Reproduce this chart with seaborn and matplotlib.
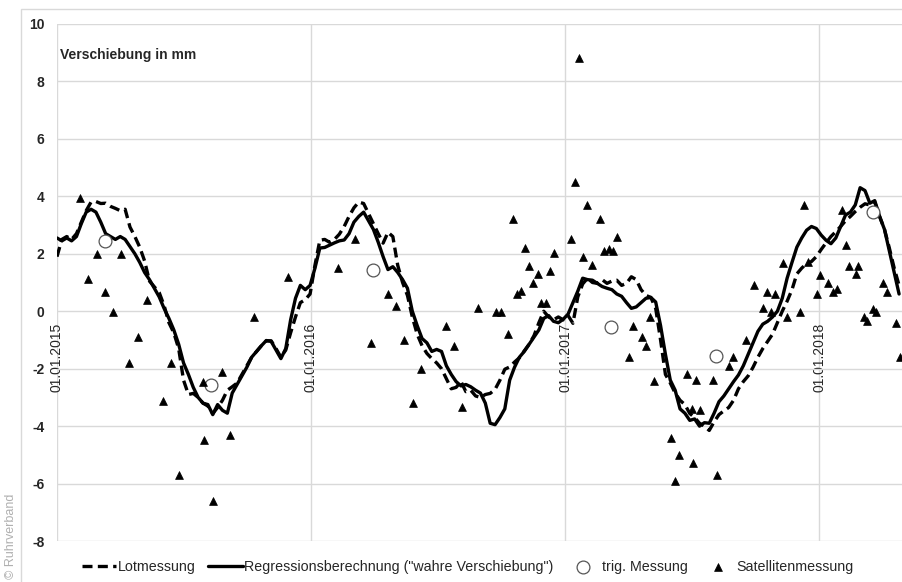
import pandas as pd
import seaborn as sns
import matplotlib.pyplot as plt
from matplotlib.patches import Rectangle

# Lotmessung and Regression, weekly values from 01.01.2015 (mm)
lot_mm = [
    1.9, 2.5, 2.6, 2.5, 2.7, 3.1, 3.5, 3.8, 3.82, 3.75,
    3.76, 3.65, 3.58, 3.5, 3.55, 2.93, 2.6, 2.23, 1.75, 1.05,
    0.85, 0.65, 0.2, -0.4, -0.75, -1.3, -2.4, -2.9, -2.86, -3.0,
    -3.2, -3.3, -3.56, -3.35, -3.1, -2.75, -2.63, -2.5, -2.2, -1.9,
    -1.6, -1.4, -1.2, -1.03, -1.03, -1.3, -1.6, -1.35, -0.75, -0.2,
    0.3, 0.4, 0.6, 1.6, 2.47, 2.5, 2.4, 2.5, 2.68, 2.95,
    3.3, 3.6, 3.8, 3.75, 3.4, 3.05, 2.7, 2.37, 2.75, 2.6,
    1.6, 1.0, 0.55, -0.2, -0.8, -1.2, -1.47, -1.65, -1.8, -2.0,
    -2.35, -2.7, -2.65, -2.45, -2.8, -2.75, -2.95, -3.0, -2.9, -2.86,
    -2.72, -2.4, -2.02, -1.94, -1.77, -1.62, -1.38, -1.15, -0.85, -0.4,
    0.0, -0.2, -0.3, -0.2, -0.3, -0.15, -0.42, 0.5, 0.95, 1.15,
    1.0, 0.97, 1.1, 0.97, 1.05, 1.08, 0.9, 0.97, 1.2, 1.1,
    0.75, 0.55, 0.48, 0.1, -1.0, -2.2, -2.5, -2.85, -3.1, -3.25,
    -3.56, -3.7, -3.9, -4.0, -4.15, -3.85, -3.6, -3.47, -3.35, -3.1,
    -2.7, -2.45, -2.25, -1.95, -1.6, -1.3, -1.05, -0.8, -0.4, 0.0,
    0.35, 0.75, 1.3, 1.5, 1.66, 1.73, 1.9, 2.15, 2.38, 2.6,
    2.77, 2.95, 3.15, 3.3, 3.47, 3.62, 3.74, 3.7, 3.8, 3.3,
    2.85, 2.2, 1.5, 0.9,
]
reg_mm = [
    2.55, 2.45, 2.55, 2.45, 2.6, 3.05, 3.45, 3.55, 3.45, 3.1,
    2.7, 2.6, 2.5, 2.6, 2.5, 2.25, 2.0, 1.7, 1.35, 1.1,
    0.8, 0.5, 0.1, -0.25, -0.65, -1.15, -1.8, -2.2, -2.65, -3.0,
    -3.2, -3.25, -3.6, -3.25, -3.45, -3.55, -2.85, -2.55, -2.25, -1.95,
    -1.6, -1.4, -1.2, -1.02, -1.05, -1.35, -1.65, -1.3, -0.3, 0.45,
    0.9, 0.75, 0.9, 1.5, 2.2, 2.22, 2.3, 2.38, 2.45, 2.48,
    2.7, 3.1, 3.3, 3.45, 3.15, 2.85, 2.4, 1.9, 1.45, 1.55,
    1.35, 1.1, 0.8, 0.0, -0.5, -0.95, -1.1, -1.4, -1.33, -1.4,
    -1.9, -2.2, -2.45, -2.6, -2.55, -2.63, -2.75, -2.85, -3.2, -3.9,
    -3.95, -3.7, -3.4, -2.4, -1.95, -1.6, -1.4, -1.15, -0.9, -0.65,
    -0.25, -0.15, -0.35, -0.4, -0.28, -0.1, 0.3, 0.7, 1.15, 1.1,
    1.08, 0.97, 0.86, 0.8, 0.75, 0.6, 0.52, 0.3, 0.1, 0.15,
    0.3, 0.45, 0.48, 0.32, -0.5, -1.5, -2.4, -2.75, -3.4, -3.55,
    -3.8, -3.75, -4.0, -3.88, -3.9, -3.55, -3.15, -2.95, -2.7, -2.45,
    -2.22, -1.9, -1.5, -1.1, -0.7, -0.45, -0.35, -0.2, 0.0, 0.45,
    1.15, 1.7, 2.23, 2.55, 2.82, 2.95, 2.88, 2.65, 2.47, 2.35,
    2.55, 2.95, 3.35, 3.45, 3.7, 4.3, 4.2, 3.76, 3.85, 3.3,
    2.85, 2.1, 1.35, 0.6,
]
line_dates = pd.date_range("2015-01-01", periods=len(lot_mm), freq="7D")

trig_dates = ["2015-03-11", "2015-08-10", "2016-03-30", "2017-03-08", "2017-08-06", "2018-03-19"]
trig_mm = [2.44, -2.56, 1.43, -0.56, -1.57, 3.45]

sat_dates = [
    "2015-02-03", "2015-02-15", "2015-02-28", "2015-03-11", "2015-03-23", "2015-04-03",
    "2015-04-15", "2015-04-27", "2015-05-10", "2015-06-02", "2015-06-14", "2015-06-25",
    "2015-07-30", "2015-07-31", "2015-08-13", "2015-08-26", "2015-09-07", "2015-10-11",
    "2015-11-29", "2016-02-09", "2016-03-05", "2016-03-28", "2016-04-21", "2016-05-02",
    "2016-05-14", "2016-05-27", "2016-06-07", "2016-07-13", "2016-07-25", "2016-08-05",
    "2016-08-28", "2016-09-23", "2016-09-30", "2016-10-11", "2016-10-18", "2016-10-23",
    "2016-10-29", "2016-11-04", "2016-11-10", "2016-11-16", "2016-11-23", "2016-11-27",
    "2016-12-04", "2016-12-10", "2016-12-16", "2017-01-09", "2017-01-15", "2017-01-21",
    "2017-01-26", "2017-02-01", "2017-02-08", "2017-02-20", "2017-02-26", "2017-03-05",
    "2017-03-11", "2017-03-16", "2017-04-03", "2017-04-08", "2017-04-21", "2017-04-27",
    "2017-05-03", "2017-05-08", "2017-06-02", "2017-06-08", "2017-06-13", "2017-06-25",
    "2017-07-02", "2017-07-03", "2017-07-08", "2017-07-14", "2017-08-01", "2017-08-07",
    "2017-08-24", "2017-08-30", "2017-09-18", "2017-09-29", "2017-10-12", "2017-10-18",
    "2017-10-24", "2017-10-29", "2017-11-10", "2017-11-16", "2017-12-04", "2017-12-10",
    "2017-12-16", "2017-12-29", "2018-01-02", "2018-01-14", "2018-01-21", "2018-01-27",
    "2018-02-03", "2018-02-09", "2018-02-13", "2018-02-23", "2018-02-26", "2018-03-06",
    "2018-03-11", "2018-03-19", "2018-03-24", "2018-04-03", "2018-04-09", "2018-04-21",
    "2018-04-27",
]
sat_mm = [
    3.93, 1.11, 1.99, 0.66, -0.03, 1.99,
    -1.81, -0.9, 0.38, -3.14, -1.81, -5.7,
    -2.47, -4.5, -6.6, -2.13, -4.32, -0.2,
    1.18, 1.5, 2.5, -1.1, 0.59, 0.17,
    -1.01, -3.2, -2.02, -0.52, -1.22, -3.34,
    0.1, -0.03, -0.03, -0.8, 3.2, 0.59,
    0.7, 2.2, 1.57, 1.0, 1.29, 0.28,
    0.28, 1.39, 2.02, 2.5, 4.5, 8.8,
    1.88, 3.69, 1.6, 3.2, 2.09, 2.16,
    2.09, 2.58, -1.6, -0.52, -0.91, -1.22,
    -0.2, -2.44, -4.42, -5.9, -5.0, -2.2,
    -3.4, -5.3, -2.4, -3.45, -2.4, -5.7,
    -1.92, -1.6, -1.01, 0.9, 0.1, 0.66,
    -0.03, 0.59, 1.67, -0.21, -0.03, 3.69,
    1.71, 0.59, 1.25, 1.0, 0.66, 0.77,
    3.52, 2.3, 1.57, 1.29, 1.57, -0.21,
    -0.35, 0.07, -0.03, 0.98, 0.66, -0.42,
    -1.6,
]

tick_dates = ["2015-01-01", "2016-01-01", "2017-01-01", "2018-01-01"]
tick_labels = ["01.01.2015", "01.01.2016", "01.01.2017", "01.01.2018"]
y_ticks = list(range(-8, 11, 2))

lines_df = pd.DataFrame({"datum": line_dates, "lot": lot_mm, "reg": reg_mm})
trig_df = pd.DataFrame({"datum": pd.to_datetime(trig_dates), "mm": trig_mm})
sat_df = pd.DataFrame({"datum": pd.to_datetime(sat_dates), "mm": sat_mm})

sns.set_style("white")
plt.rcParams["font.family"] = ["Liberation Sans", "DejaVu Sans"]
plt.rcParams["axes.unicode_minus"] = False

fig = plt.figure(figsize=(9.03, 5.82), dpi=100)
ax = fig.add_axes([0.0631, 0.0704, 0.9364, 0.8884])

sns.lineplot(data=lines_df, x="datum", y="lot", ax=ax, color="black", lw=2.4,
             linestyle=(0, (3, 1.6)), errorbar=None, label="Lotmessung")
sns.lineplot(data=lines_df, x="datum", y="reg", ax=ax, color="black", lw=2.4,
             errorbar=None, label='Regressionsberechnung ("wahre Verschiebung")')
sns.scatterplot(data=trig_df, x="datum", y="mm", ax=ax, marker="o", s=85,
                facecolor="white", edgecolor="#555555", linewidth=0.9,
                zorder=3, label="trig. Messung")
sns.scatterplot(data=sat_df, x="datum", y="mm", ax=ax, marker="^", s=32,
                color="black", edgecolor="black", linewidth=0.5,
                zorder=3, label="Satellitenmessung")

ax.set_xlim(pd.Timestamp("2015-01-01"), pd.Timestamp("2018-05-01"))
ax.set_ylim(-8, 10)
ax.set_yticks(y_ticks)
ax.set_yticklabels([str(v) for v in y_ticks], fontweight="bold", fontsize=10)
ax.set_xticks(pd.to_datetime(tick_dates))
ax.set_xticklabels(tick_labels, fontsize=9.5, color="#404040")
ax.set_xlabel("")
ax.set_ylabel("")

# date labels sit on the zero line, like in the original
ax.spines["bottom"].set_position(("data", 0))
for s in ax.spines.values():
    s.set_visible(False)
ax.tick_params(axis="x", length=0, pad=8, labelrotation=90)
ax.tick_params(axis="y", length=0, pad=9)
for lab in ax.get_xticklabels():
    lab.set_ha("center")
    lab.set_va("top")
ax.grid(True, color="#d9d9d9", lw=1)
ax.set_axisbelow(True)

handles, labels = ax.get_legend_handles_labels()
ax.get_legend().remove()
fig.legend(handles, labels, loc="center", bbox_to_anchor=(0.518, 0.026), ncol=4,
           frameon=False, fontsize=10.3, handlelength=2.4, handletextpad=0.1,
           columnspacing=0.9)

fig.text(60 / 903, 1 - 55 / 582, "Verschiebung in mm", fontweight="bold",
         fontsize=10, ha="left", va="center")
fig.text(0.012, 0.005, "© Ruhrverband", rotation=90, color="#b0b0b0",
         fontsize=9, ha="center", va="bottom")
fig.patches.append(Rectangle((21 / 903, -0.02), 1.0, 1.0045, transform=fig.transFigure,
                             fill=False, edgecolor="#d9d9d9", lw=1))

fig.savefig("out.png", dpi=100)
